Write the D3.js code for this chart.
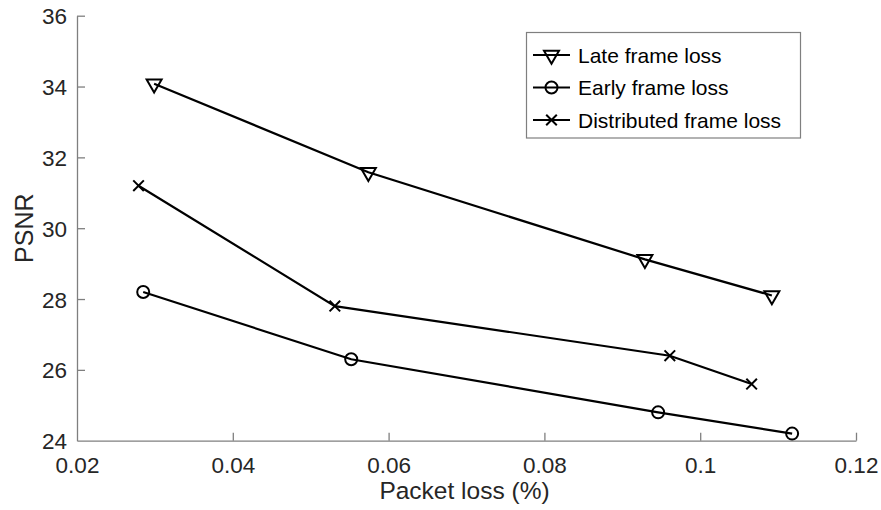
<!DOCTYPE html>
<html><head><meta charset="utf-8">
<script src="https://cdn.jsdelivr.net/npm/d3@7"></script>
<style>body{margin:0;background:#fff;}svg{display:block;font-family:"Liberation Sans",Arial,sans-serif;}</style>
</head><body>
<svg id="c" width="881" height="510"></svg>
<script>
const seriesNames = ["Late frame loss", "Early frame loss", "Distributed frame loss"];
const seriesMarkers = ["triangle", "circle", "cross"];
const lateX = [0.0299, 0.0574, 0.0929, 0.1092];
const lateY = [34.08, 31.58, 29.12, 28.1];
const earlyX = [0.0285, 0.0552, 0.0946, 0.1118];
const earlyY = [28.2, 26.3, 24.8, 24.2];
const distX = [0.0279, 0.0531, 0.0961, 0.1066];
const distY = [31.2, 27.8, 26.4, 25.6];
const xTicks = [0.02, 0.04, 0.06, 0.08, 0.1, 0.12];
const yTicks = [24, 26, 28, 30, 32, 34, 36];
const xLabel = "Packet loss (%)";
const yLabel = "PSNR";

const svg = d3.select("#c");
const x = d3.scaleLinear().domain([0.02, 0.12]).range([77, 856]);
const y = d3.scaleLinear().domain([24, 36]).range([440.7, 15.7]);
const axisCol = "#7f7f7f", textCol = "#262626";

const gx = svg.append("g").attr("transform", `translate(0,${y(24)})`)
  .call(d3.axisBottom(x).tickValues(xTicks).tickFormat(d => String(+d.toFixed(2))).tickSizeInner(-8).tickSizeOuter(0));
const gy = svg.append("g").attr("transform", `translate(${x(0.02)},0)`)
  .call(d3.axisLeft(y).tickValues(yTicks).tickFormat(d3.format("d")).tickSizeInner(-8).tickSizeOuter(0).tickPadding(10));
[gx, gy].forEach(g => {
  g.select(".domain").attr("stroke", axisCol).attr("stroke-width", 1.3);
  g.selectAll(".tick line").attr("stroke", axisCol).attr("stroke-width", 1.3);
  g.selectAll(".tick text").attr("fill", textCol).style("font-size", "22.5px").style("font-family", "'Liberation Sans',Arial,sans-serif");
});
gx.selectAll(".tick text").attr("dy", null).attr("y", 32);
gy.selectAll(".tick text").attr("dy", "0.36em");
gx.selectAll(".tick line").filter(d => d === 0.02).remove();
gy.selectAll(".tick line").filter(d => d === 24).remove();

svg.append("text").attr("x", (x(0.02) + x(0.12)) / 2 - 2).attr("y", 499).attr("text-anchor", "middle")
  .attr("fill", textCol).style("font-size", "24.5px").text(xLabel);
svg.append("text").attr("transform", `translate(33,${(y(24) + y(36)) / 2}) rotate(-90)`).attr("text-anchor", "middle")
  .attr("fill", textCol).style("font-size", "25px").text(yLabel);

function marker(g, type, cx, cy) {
  if (type === "triangle") {
    const w = 7.5, hTop = 4.3, hBot = 8.7;
    g.append("path").attr("d", `M${cx - w},${cy - hTop}L${cx + w},${cy - hTop}L${cx},${cy + hBot}Z`)
      .attr("fill", "none").attr("stroke", "#000").attr("stroke-width", 2);
  } else if (type === "circle") {
    g.append("circle").attr("cx", cx).attr("cy", cy).attr("r", 6)
      .attr("fill", "none").attr("stroke", "#000").attr("stroke-width", 2);
  } else {
    const s = 5.3;
    g.append("path").attr("d", `M${cx - s},${cy - s}L${cx + s},${cy + s}M${cx - s},${cy + s}L${cx + s},${cy - s}`)
      .attr("stroke", "#000").attr("stroke-width", 2);
  }
}

const data = [
  { xs: lateX, ys: lateY },
  { xs: earlyX, ys: earlyY },
  { xs: distX, ys: distY }
];
const line = d3.line().x(d => x(d[0])).y(d => y(d[1]));
data.forEach((s, i) => {
  const pts = s.xs.map((v, j) => [v, s.ys[j]]);
  const g = svg.append("g");
  g.append("path").attr("d", line(pts)).attr("fill", "none").attr("stroke", "#000").attr("stroke-width", 2.2);
  pts.forEach(p => marker(g, seriesMarkers[i], x(p[0]), y(p[1])));
});

const lg = svg.append("g");
lg.append("rect").attr("x", 526.5).attr("y", 32.5).attr("width", 274).attr("height", 105.5)
  .attr("fill", "#fff").attr("stroke", axisCol).attr("stroke-width", 1.2);
seriesNames.forEach((name, i) => {
  const ry = 55 + i * 32.5;
  lg.append("line").attr("x1", 533).attr("x2", 570).attr("y1", ry).attr("y2", ry).attr("stroke", "#000").attr("stroke-width", 2.2);
  marker(lg, seriesMarkers[i], 551.5, ry);
  lg.append("text").attr("x", 578).attr("y", ry).attr("dy", "0.36em").attr("fill", "#000")
    .style("font-size", "21px").text(name);
});
</script>
</body></html>
